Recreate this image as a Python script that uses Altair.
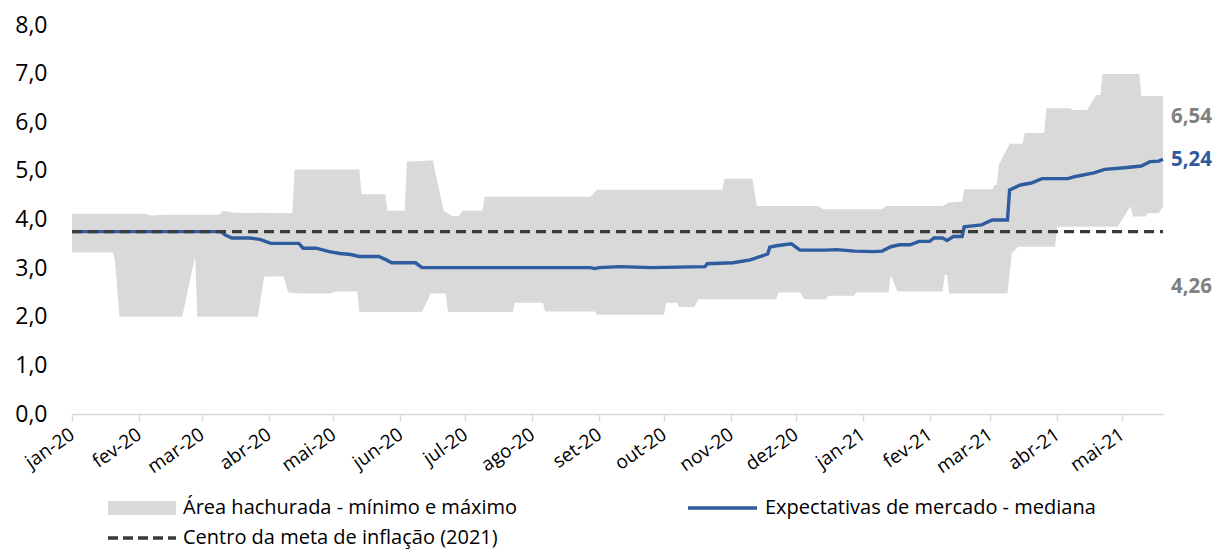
import altair as alt
import pandas as pd

# Expectativas Focus para o IPCA de 2021 (% a.a.)
max_dates = ["2020-01-01", "2020-02-04", "2020-02-07", "2020-02-12", "2020-03-09", "2020-03-11",
             "2020-03-16", "2020-04-12", "2020-04-13", "2020-05-13", "2020-05-14", "2020-05-25",
             "2020-05-26", "2020-06-03", "2020-06-04", "2020-06-16", "2020-06-21", "2020-06-25",
             "2020-06-28", "2020-06-30", "2020-07-09", "2020-07-10", "2020-08-28", "2020-08-31",
             "2020-10-28", "2020-10-29", "2020-11-11", "2020-11-13", "2020-12-11", "2020-12-14",
             "2021-01-10", "2021-01-12", "2021-02-07", "2021-02-10", "2021-02-16", "2021-02-17",
             "2021-03-02", "2021-03-03", "2021-03-04", "2021-03-05", "2021-03-10", "2021-03-16",
             "2021-03-17", "2021-03-26", "2021-03-27", "2021-04-07", "2021-04-08", "2021-04-15",
             "2021-04-19", "2021-04-21", "2021-04-22", "2021-05-09", "2021-05-10", "2021-05-20"]
max_vals = [4.12, 4.12, 4.08, 4.10, 4.10, 4.18,
            4.14, 4.13, 5.03, 5.03, 4.52, 4.52,
            4.18, 4.18, 5.19, 5.22, 4.18, 4.07,
            4.07, 4.18, 4.18, 4.47, 4.47, 4.61,
            4.61, 4.84, 4.84, 4.28, 4.28, 4.21,
            4.21, 4.28, 4.28, 4.35, 4.37, 4.62,
            4.62, 4.71, 4.71, 5.12, 5.56, 5.56,
            5.78, 5.78, 6.29, 6.29, 6.25, 6.25,
            6.56, 6.56, 6.99, 6.99, 6.54, 6.54]

min_dates = ["2020-01-01", "2020-01-20", "2020-01-21", "2020-01-23", "2020-02-21", "2020-02-27",
             "2020-02-28", "2020-03-27", "2020-03-30", "2020-04-08", "2020-04-10", "2020-04-15",
             "2020-04-29", "2020-05-02", "2020-05-12", "2020-05-13", "2020-06-11", "2020-06-15",
             "2020-06-22", "2020-06-23", "2020-07-23", "2020-07-24", "2020-08-06", "2020-08-07",
             "2020-08-30", "2020-08-31", "2020-10-01", "2020-10-02", "2020-10-07", "2020-10-08",
             "2020-10-15", "2020-10-17", "2020-11-22", "2020-11-23", "2020-12-03", "2020-12-05",
             "2020-12-15", "2020-12-16", "2020-12-28", "2020-12-29", "2021-01-13", "2021-01-14",
             "2021-01-17", "2021-02-07", "2021-02-08", "2021-02-09", "2021-02-10", "2021-03-09",
             "2021-03-11", "2021-03-14", "2021-03-31", "2021-04-01", "2021-04-29", "2021-05-05",
             "2021-05-06", "2021-05-12", "2021-05-13", "2021-05-18", "2021-05-19", "2021-05-20"]
min_vals = [3.32, 3.32, 3.10, 2.00, 2.00, 3.24,
            2.00, 2.00, 2.83, 2.83, 2.50, 2.48,
            2.48, 2.52, 2.52, 2.10, 2.10, 2.48,
            2.48, 2.10, 2.10, 2.29, 2.29, 2.11,
            2.11, 2.04, 2.04, 2.29, 2.29, 2.20,
            2.20, 2.36, 2.36, 2.50, 2.50, 2.36,
            2.36, 2.43, 2.43, 2.50, 2.50, 2.86,
            2.52, 2.52, 2.86, 2.86, 2.48, 2.48,
            3.30, 3.44, 3.44, 3.85, 3.85, 4.27,
            4.06, 4.06, 4.13, 4.13, 4.20, 4.26]

med_dates = ["2020-01-01", "2020-03-10", "2020-03-12", "2020-03-15", "2020-03-23", "2020-03-28",
             "2020-04-02", "2020-04-15", "2020-04-17", "2020-04-23", "2020-04-29", "2020-05-04",
             "2020-05-09", "2020-05-13", "2020-05-22", "2020-05-25", "2020-05-28", "2020-06-08",
             "2020-06-11", "2020-08-28", "2020-08-30", "2020-09-01", "2020-09-11", "2020-09-25",
             "2020-10-08", "2020-10-20", "2020-10-21", "2020-11-02", "2020-11-10", "2020-11-18",
             "2020-11-19", "2020-11-22", "2020-11-29", "2020-12-03", "2020-12-15", "2020-12-20",
             "2020-12-28", "2021-01-06", "2021-01-10", "2021-01-14", "2021-01-18", "2021-01-23",
             "2021-01-27", "2021-02-01", "2021-02-03", "2021-02-07", "2021-02-09", "2021-02-12",
             "2021-02-16", "2021-02-17", "2021-02-25", "2021-03-02", "2021-03-09", "2021-03-10",
             "2021-03-15", "2021-03-20", "2021-03-25", "2021-04-06", "2021-04-09", "2021-04-18",
             "2021-04-23", "2021-05-01", "2021-05-10", "2021-05-14", "2021-05-18", "2021-05-20"]
med_vals = [3.75, 3.75, 3.68, 3.62, 3.62, 3.59,
            3.51, 3.51, 3.41, 3.41, 3.34, 3.30,
            3.28, 3.24, 3.24, 3.18, 3.11, 3.11,
            3.01, 3.01, 2.99, 3.01, 3.03, 3.01,
            3.02, 3.03, 3.09, 3.11, 3.17, 3.29,
            3.43, 3.46, 3.50, 3.37, 3.37, 3.38,
            3.35, 3.34, 3.35, 3.44, 3.48, 3.48,
            3.55, 3.55, 3.62, 3.62, 3.57, 3.65,
            3.65, 3.85, 3.89, 3.99, 3.99, 4.61,
            4.71, 4.75, 4.84, 4.84, 4.88, 4.96,
            5.03, 5.06, 5.10, 5.19, 5.20, 5.24]

meta_2021 = 3.75
period = ["2020-01-01", "2021-05-20"]
month_abbr = ["jan", "fev", "mar", "abr", "mai", "jun", "jul", "ago", "set", "out", "nov", "dez"]
legend_labels = ["Área hachurada - mínimo e máximo",
                 "Expectativas de mercado - mediana",
                 "Centro da meta de inflação (2021)"]

GRAY_FILL = "#d9d9d9"
BLUE = "#2e5c9e"
DARK = "#3a3a3a"
LABEL_GRAY = "#808080"
FONT = "Open Sans"

W, H = 1091, 389

df_max = pd.DataFrame({"data": max_dates, "valor": max_vals})
df_min = pd.DataFrame({"data": min_dates, "valor": min_vals})
df_med = pd.DataFrame({"data": med_dates, "valor": med_vals})
df_meta = pd.DataFrame({"inicio": [period[0]], "fim": [period[1]], "valor": [meta_2021]})

month_ticks = pd.date_range("2020-01-01", "2021-05-01", freq="MS")
tick_values = [alt.DateTime(year=d.year, month=d.month, date=1, utc=True) for d in month_ticks]
month_array = "[" + ",".join(f"'{m}'" for m in month_abbr) + "]"

x_scale = alt.Scale(type="utc", domain=[alt.DateTime(year=2020, month=1, date=1, utc=True),
                                        alt.DateTime(year=2021, month=5, date=20, utc=True)])
y_scale = alt.Scale(domain=[0, 8], nice=False)

x_axis = alt.Axis(
    values=tick_values,
    labelExpr=f"{month_array}[utcmonth(datum.value)] + '-' + utcFormat(datum.value, '%y')",
    labelAngle=-35, labelAlign="right", labelBaseline="middle", labelPadding=11,
    labelFontSize=19, labelColor="#000000", labelFont=FONT,
    domainColor=GRAY_FILL, domainWidth=1.5, tickColor=GRAY_FILL, tickSize=7, tickWidth=1.5,
    grid=False, title=None, zindex=1, labelOverlap=False,
)
y_axis = alt.Axis(
    values=list(range(0, 9)),
    labelExpr="replace(format(datum.value, '.1f'), '.', ',')",
    labelFontSize=23, labelColor="#000000", labelFont=FONT, labelPadding=25,
    domain=False, ticks=False, grid=False, title=None,
)

x_enc = alt.X("data:T", scale=x_scale, axis=x_axis)

# faixa mínimo-máximo: área cinza até o máximo, recoberta em branco até o mínimo
area_max = alt.Chart(df_max).mark_area(color=GRAY_FILL, opacity=1).encode(
    x=x_enc, y=alt.Y("valor:Q", scale=y_scale, axis=y_axis)
)
area_min = alt.Chart(df_min).mark_area(color="#ffffff", opacity=1).encode(
    x=alt.X("data:T"), y=alt.Y("valor:Q")
)

mediana = alt.Chart(df_med).mark_line(color=BLUE, strokeWidth=3.4).encode(
    x=alt.X("data:T"), y=alt.Y("valor:Q")
)

meta = alt.Chart(df_meta).mark_rule(color=DARK, strokeWidth=3.4, strokeDash=[10, 6]).encode(
    x=alt.X("inicio:T"), x2="fim:T", y=alt.Y("valor:Q")
)

# rótulos dos últimos valores
last_max = pd.DataFrame({"data": [max_dates[-1]], "valor": [max_vals[-1]]})
last_med = pd.DataFrame({"data": [med_dates[-1]], "valor": [med_vals[-1]]})
last_min = pd.DataFrame({"data": [min_dates[-1]], "valor": [min_vals[-1]]})
for frame in (last_max, last_med, last_min):
    frame["rotulo"] = frame["valor"].map(lambda v: f"{v:.2f}".replace(".", ","))

def end_label(frame, color, dy):
    return alt.Chart(frame).mark_text(
        align="left", baseline="middle", dx=8, dy=dy, fontSize=20.5, fontWeight="bold",
        font=FONT, color=color,
    ).encode(x=alt.X("data:T"), y=alt.Y("valor:Q"), text="rotulo:N")

lbl_max = end_label(last_max, LABEL_GRAY, 21)
lbl_med = end_label(last_med, BLUE, 1)
lbl_min = end_label(last_min, LABEL_GRAY, 80)

# legenda desenhada abaixo do eixo
leg_df = pd.DataFrame({"rotulo": legend_labels})
row1, row2 = H + 94, H + 124
sw_area = alt.Chart(leg_df.iloc[[0]]).mark_rect(color=GRAY_FILL).encode(
    x=alt.value(36), x2=alt.value(104), y=alt.value(row1 - 7), y2=alt.value(row1 + 7)
)
sw_med = alt.Chart(leg_df.iloc[[1]]).mark_rule(color=BLUE, strokeWidth=3.6).encode(
    x=alt.value(616), x2=alt.value(685), y=alt.value(row1)
)
sw_meta = alt.Chart(leg_df.iloc[[2]]).mark_rule(color=DARK, strokeWidth=3.6, strokeDash=[10, 5]).encode(
    x=alt.value(36), x2=alt.value(104), y=alt.value(row2)
)

def leg_text(idx, xpos, ypos):
    return alt.Chart(leg_df.iloc[[idx]]).mark_text(
        align="left", baseline="middle", fontSize=20, font=FONT, color="#000000"
    ).encode(x=alt.value(xpos), y=alt.value(ypos), text="rotulo:N")

legend = sw_area + sw_med + sw_meta + leg_text(0, 111, row1) + leg_text(1, 693, row1) + leg_text(2, 111, row2)

chart = alt.layer(
    area_max, area_min, mediana, meta, lbl_max, lbl_med, lbl_min, legend
).properties(
    width=W, height=H,
    autosize=alt.AutoSizeParams(type="none"),
    padding={"left": 72, "top": 25, "right": 62, "bottom": 135},
).configure_view(stroke=None)

chart.save("out.html", embed_options={"renderer": "svg", "actions": False})
